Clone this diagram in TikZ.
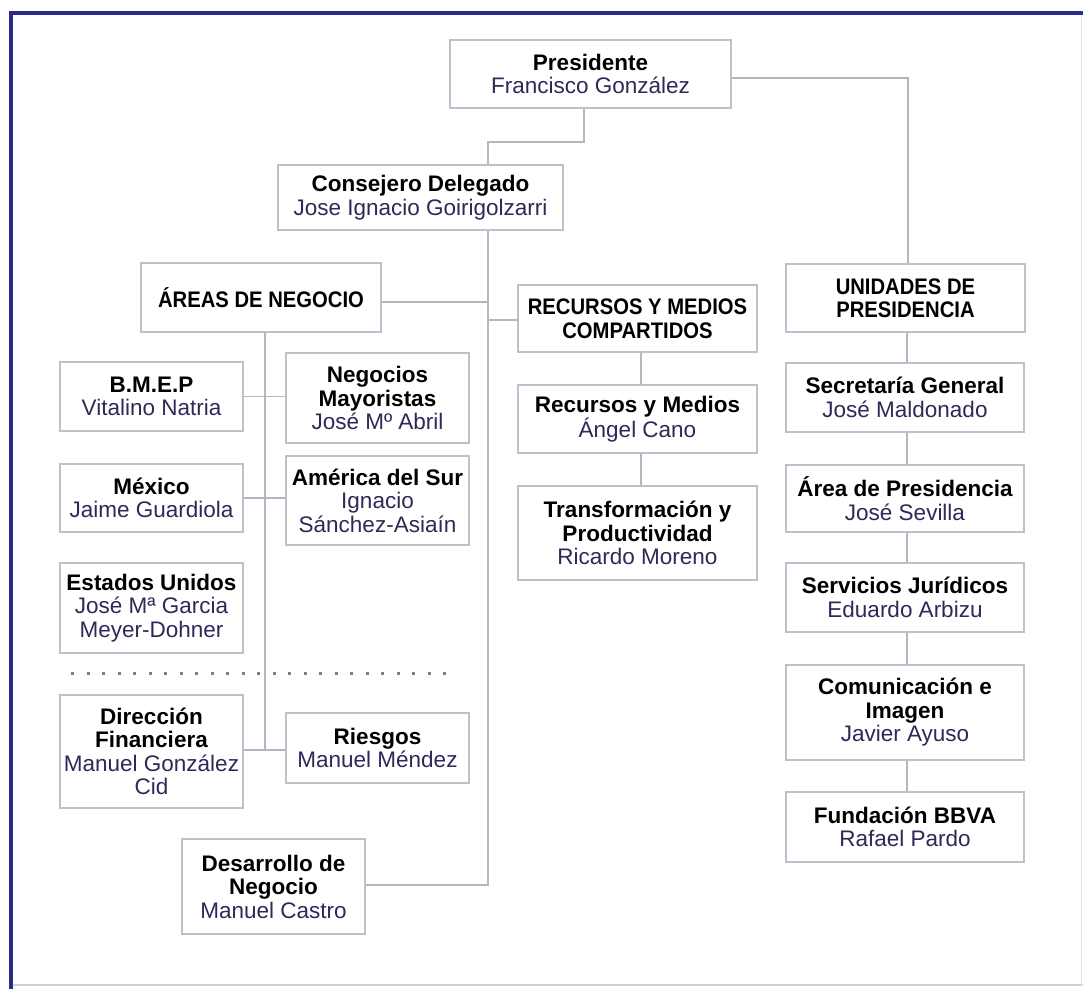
\documentclass[tikz,border=0pt]{standalone}
\usepackage{fontspec}
\setmainfont{Liberation Sans}
\newfontfamily\capsfont[FakeStretch=0.9]{Liberation Sans}
\begin{document}
\definecolor{framecol}{RGB}{42,42,138}
\definecolor{boxline}{RGB}{192,192,204}
\definecolor{linkcol}{RGB}{182,182,194}
\definecolor{namecol}{RGB}{52,38,88}
\newcommand{\ttl}[1]{{\bfseries\color{black}#1}}
\newcommand{\who}[1]{{\color{namecol}#1}}
\begin{tikzpicture}[x=1pt,y=-1pt,
  orgbox/.style={draw=boxline,line width=1.3pt,fill=white,rectangle,
    inner sep=2pt,align=center,
    font=\fontsize{22.5}{23.5}\selectfont},
  headbox/.style={orgbox,font=\capsfont\fontsize{22.5}{23.5}\selectfont},
  conn/.style={draw=linkcol,line width=1.3pt},
  sepline/.style={draw=black!50,line width=3pt,dash pattern=on 3pt off 12.5pt},
  frameline/.style={draw=framecol,line width=4pt}]
\useasboundingbox (0,0) rectangle (1083,989);
\fill[white] (0,0) rectangle (1083,989);

% outer frame
\draw[frameline] (11,989) -- (11,13) -- (1083,13);
\draw[black!18,line width=1.2pt] (13,985) -- (1083,985);
\draw[black!10,line width=1pt] (1081,15) -- (1081,985);

% top level
\node[orgbox,minimum width=281pt,minimum height=68pt] (pres) at (590.5,74)
  {\ttl{Presidente}\\\who{Francisco González}};
\node[orgbox,minimum width=285pt,minimum height=65pt] (cons) at (420.5,197.5)
  {\ttl{Consejero Delegado}\\\who{Jose Ignacio Goirigolzarri}};

% group heads
\node[headbox,minimum width=240pt,minimum height=69pt] (areas) at (261,297.5)
  {\ttl{ÁREAS DE NEGOCIO}};
\node[headbox,minimum width=239pt,minimum height=67pt] (recm) at (637.5,318.5)
  {\ttl{RECURSOS Y MEDIOS}\\\ttl{COMPARTIDOS}};
\node[headbox,minimum width=239pt,minimum height=68pt] (unid) at (905.5,298)
  {\ttl{UNIDADES DE}\\\ttl{PRESIDENCIA}};

% business areas
\node[orgbox,minimum width=183pt,minimum height=69pt] (bmep) at (151.5,396.5)
  {\ttl{B.M.E.P}\\\who{Vitalino Natria}};
\node[orgbox,minimum width=183pt,minimum height=90pt] (negm) at (377.5,398)
  {\ttl{Negocios}\\\ttl{Mayoristas}\\\who{José Mº Abril}};
\node[orgbox,minimum width=183pt,minimum height=68pt] (mex) at (151.5,498)
  {\ttl{México}\\\who{Jaime Guardiola}};
\node[orgbox,minimum width=183pt,minimum height=89pt] (ams) at (377.5,500.5)
  {\ttl{América del Sur}\\\who{Ignacio}\\\who{Sánchez-Asiaín}};
\node[orgbox,minimum width=183pt,minimum height=90pt] (eeuu) at (151.5,608)
  {\ttl{Estados Unidos}\\\who{José Mª Garcia}\\\who{Meyer-Dohner}};
\node[orgbox,minimum width=183pt,minimum height=113pt] (dirf) at (151.5,751.5)
  {\ttl{Dirección}\\\ttl{Financiera}\\\who{Manuel González}\\\who{Cid}};
\node[orgbox,minimum width=183pt,minimum height=70pt] (ries) at (377.5,748)
  {\ttl{Riesgos}\\\who{Manuel Méndez}};
\node[orgbox,minimum width=183pt,minimum height=95pt] (desn) at (273.5,886.5)
  {\ttl{Desarrollo de}\\\ttl{Negocio}\\\who{Manuel Castro}};

% shared resources
\node[orgbox,minimum width=239pt,minimum height=68pt] (ryme) at (637.5,419)
  {\ttl{Recursos y Medios}\\\who{Ángel Cano}};
\node[orgbox,minimum width=239pt,minimum height=94pt] (trpr) at (637.5,533)
  {\ttl{Transformación y}\\\ttl{Productividad}\\\who{Ricardo Moreno}};

% chairman's units
\node[orgbox,minimum width=238pt,minimum height=69pt] (secg) at (905,397.5)
  {\ttl{Secretaría General}\\\who{José Maldonado}};
\node[orgbox,minimum width=238pt,minimum height=67pt] (arep) at (905,498.5)
  {\ttl{Área de Presidencia}\\\who{José Sevilla}};
\node[orgbox,minimum width=238pt,minimum height=69pt] (serj) at (905,597.5)
  {\ttl{Servicios Jurídicos}\\\who{Eduardo Arbizu}};
\node[orgbox,minimum width=238pt,minimum height=95pt] (comi) at (905,712.5)
  {\ttl{Comunicación e}\\\ttl{Imagen}\\\who{Javier Ayuso}};
\node[orgbox,minimum width=238pt,minimum height=70pt] (fund) at (905,827)
  {\ttl{Fundación BBVA}\\\who{Rafael Pardo}};

% routing points
\coordinate (pj) at (584,142);
\coordinate (cj) at (488,142);
\coordinate (pr) at (908,78);
\coordinate (tb) at (488,885);
\coordinate (ta) at (488,302);
\coordinate (tr) at (488,320);
\coordinate (lvb) at (265,750);
\coordinate (rmx) at (641,0);
\coordinate (rc) at (907,0);
\coordinate (sepA) at (71,673);
\coordinate (sepB) at (455,673);

% connectors
\draw[conn] (pres.south -| pj) -- (pj) -- (cj) -- (cons.north -| cj);
\draw[conn] (pres.east |- pr) -- (pr) -- (unid.north -| pr);
\draw[conn] (cons.south -| tb) -- (tb) -- (desn.east |- tb);
\draw[conn] (areas.east |- ta) -- (ta);
\draw[conn] (tr) -- (recm.west |- tr);
\draw[conn] (areas.south -| lvb) -- (lvb);
\draw[conn] (bmep.east) -- (negm.west |- bmep.east);
\draw[conn] (mex.east) -- (ams.west |- mex.east);
\draw[conn] (dirf.east |- lvb) -- (ries.west |- lvb);
\draw[conn] (recm.south -| rmx) -- (ryme.north -| rmx);
\draw[conn] (ryme.south -| rmx) -- (trpr.north -| rmx);
\draw[conn] (unid.south -| rc) -- (secg.north -| rc);
\draw[conn] (secg.south -| rc) -- (arep.north -| rc);
\draw[conn] (arep.south -| rc) -- (serj.north -| rc);
\draw[conn] (serj.south -| rc) -- (comi.north -| rc);
\draw[conn] (comi.south -| rc) -- (fund.north -| rc);

% dotted separator
\draw[sepline] (sepA) -- (sepB);
\end{tikzpicture}
\end{document}
